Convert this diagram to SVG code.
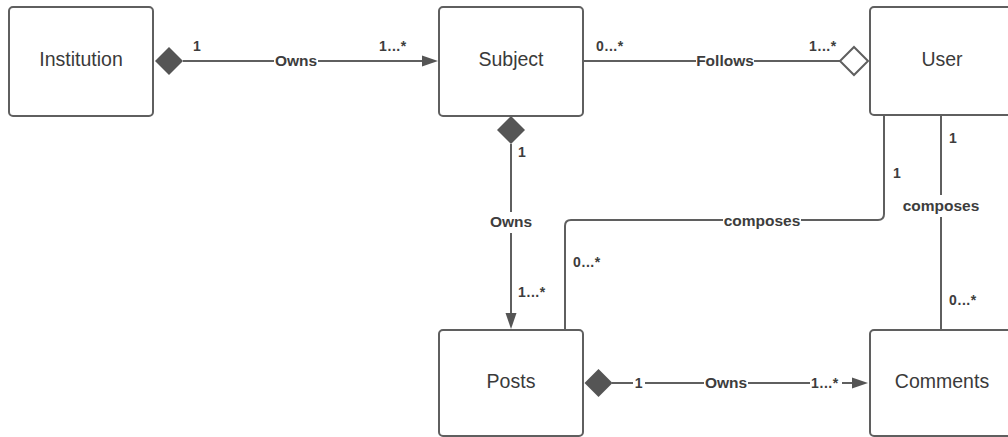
<svg xmlns="http://www.w3.org/2000/svg" width="1008" height="437" viewBox="0 0 1008 437">
  <style>
    .box { fill: #ffffff; stroke: #5f5f5f; stroke-width: 2; }
    .name { font-family: "Liberation Sans", Arial, sans-serif; font-size: 19.5px; fill: #3a3a3a; text-anchor: middle; }
    .line { fill: none; stroke: #5f5f5f; stroke-width: 2; }
    .lbl { font-family: "Liberation Sans", Arial, sans-serif; font-size: 15.5px; font-weight: bold; fill: #3d3d3d; text-anchor: middle; }
    .mult { font-family: "Liberation Sans", Arial, sans-serif; font-size: 14px; font-weight: bold; fill: #3d3d3d; letter-spacing: 0.6px; }
    .gap { fill: #ffffff; }
    .solid { fill: #555555; stroke: none; }
    .hollow { fill: #ffffff; stroke: #5f5f5f; stroke-width: 2; }
  </style>
  <rect width="1008" height="437" fill="#ffffff"/>

  <!-- associations -->
  <g id="connectors">
    <!-- Institution owns Subject -->
    <line class="line" x1="183" y1="61" x2="424" y2="61"/>
    <polygon class="solid" points="169,47 183,61 169,75 155,61"/>
    <polygon class="solid" points="422,55.5 438,61 422,66.5"/>
    <rect class="gap" x="274" y="53" width="44" height="15"/>
    <text class="lbl" x="296" y="65.5">Owns</text>
    <text class="mult" x="193" y="51">1</text>
    <text class="mult" x="379" y="51">1...*</text>

    <!-- Subject followed by User -->
    <line class="line" x1="583" y1="61" x2="840" y2="61"/>
    <polygon class="hollow" points="854,47 868,61 854,75 840,61"/>
    <rect class="gap" x="696" y="53" width="58" height="15"/>
    <text class="lbl" x="725" y="65.5">Follows</text>
    <text class="mult" x="596" y="51">0...*</text>
    <text class="mult" x="809" y="51">1...*</text>

    <!-- Subject owns Posts -->
    <line class="line" x1="511" y1="144" x2="511" y2="314"/>
    <polygon class="solid" points="511,116 525,130 511,144 497,130"/>
    <polygon class="solid" points="505.5,313 511,329 516.5,313"/>
    <rect class="gap" x="489" y="212" width="44" height="21"/>
    <text class="lbl" x="511" y="227">Owns</text>
    <text class="mult" x="518" y="157">1</text>
    <text class="mult" x="518" y="297">1...*</text>

    <!-- User composes Posts -->
    <path class="line" d="M884,115 V214 Q884,220 878,220 H571 Q565,220 565,226 V330"/>
    <rect class="gap" x="723" y="212" width="78" height="16"/>
    <text class="lbl" x="762" y="226">composes</text>
    <text class="mult" x="893" y="178">1</text>
    <text class="mult" x="573" y="267">0...*</text>

    <!-- User composes Comments -->
    <line class="line" x1="941" y1="115" x2="941" y2="331"/>
    <rect class="gap" x="902" y="195" width="78" height="22"/>
    <text class="lbl" x="941" y="211">composes</text>
    <text class="mult" x="949" y="143">1</text>
    <text class="mult" x="949" y="305">0...*</text>

    <!-- Posts own Comments -->
    <line class="line" x1="612" y1="383" x2="854" y2="383"/>
    <polygon class="solid" points="598.5,369 612.5,383 598.5,397 584.5,383"/>
    <polygon class="solid" points="852,377.5 868,383 852,388.5"/>
    <rect class="gap" x="633" y="375" width="12" height="15"/>
    <text class="mult" x="639" y="388" text-anchor="middle">1</text>
    <rect class="gap" x="704" y="375" width="44" height="15"/>
    <text class="lbl" x="726" y="388">Owns</text>
    <rect class="gap" x="810" y="375" width="32" height="15"/>
    <text class="mult" x="811" y="388">1...*</text>
  </g>

  <!-- classes -->
  <g id="institution">
    <rect class="box" x="9" y="7" width="144" height="109" rx="4"/>
    <text class="name" x="81" y="66">Institution</text>
  </g>
  <g id="subject">
    <rect class="box" x="439" y="7" width="144" height="109" rx="4"/>
    <text class="name" x="511" y="66">Subject</text>
  </g>
  <g id="user">
    <rect class="box" x="870" y="7" width="150" height="108" rx="4"/>
    <text class="name" x="942" y="66">User</text>
  </g>
  <g id="posts">
    <rect class="box" x="439" y="330" width="144" height="106" rx="4"/>
    <text class="name" x="511" y="388">Posts</text>
  </g>
  <g id="comments">
    <rect class="box" x="870" y="330" width="150" height="106" rx="4"/>
    <text class="name" x="942" y="388">Comments</text>
  </g>
</svg>
